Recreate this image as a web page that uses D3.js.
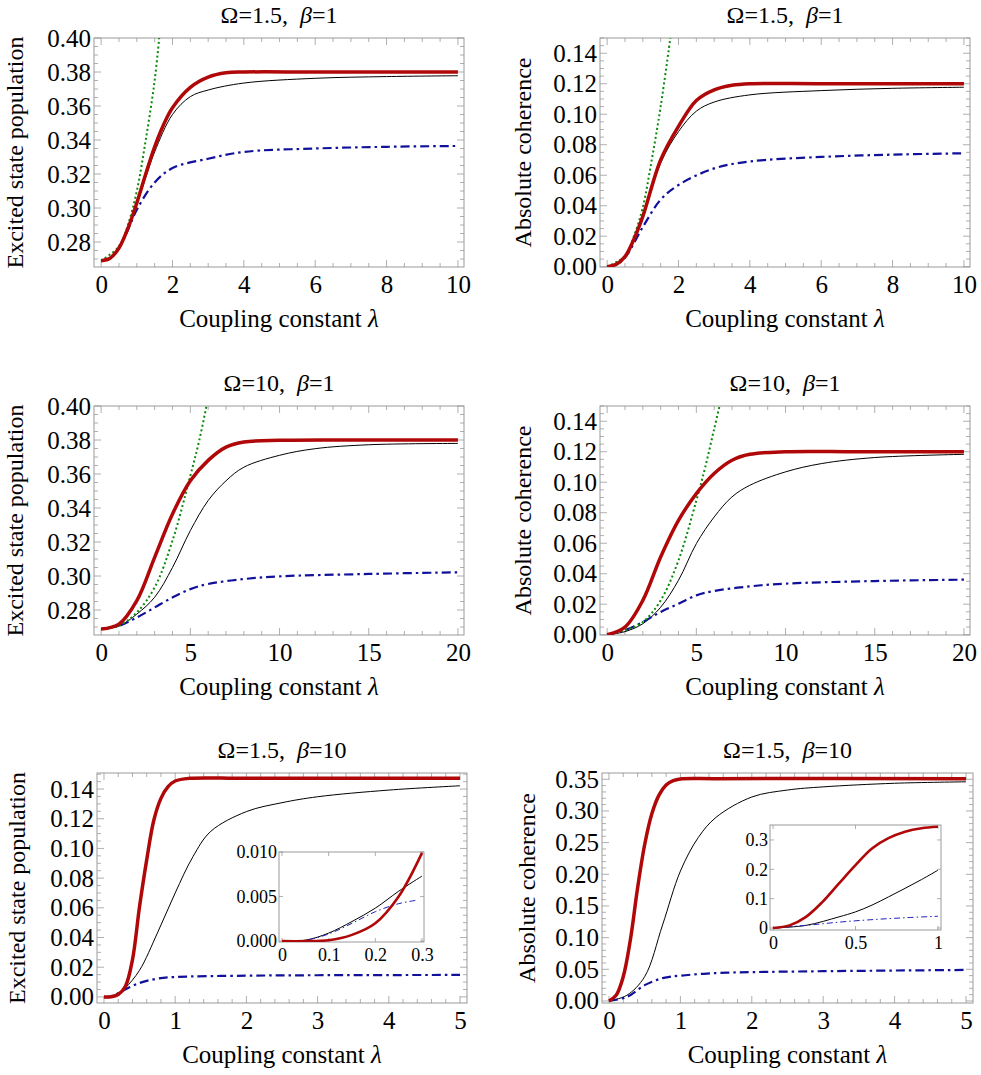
<!DOCTYPE html>
<html><head><meta charset="utf-8">
<script src="https://cdn.jsdelivr.net/npm/d3@7"></script>
<style>body{margin:0;background:#fff}svg{display:block}</style>
</head><body>
<svg id="c" width="981" height="1075"></svg>
<script>
// ---------- data ----------
const A_red   = [[0,.269],[.25,.2705],[.5,.2765],[.75,.288],[1,.303],[1.25,.32],[1.5,.336],[1.75,.349],[2,.359],[2.5,.371],[3,.377],[3.5,.3795],[4,.38],[6,.38],[10,.38]];
const A_black = [[0,.269],[.25,.2705],[.5,.2765],[.75,.288],[1,.302],[1.25,.318],[1.5,.333],[2,.355],[2.5,.3655],[3,.3694],[4,.3735],[6,.3763],[8,.3773],[10,.3778]];
const A_blue  = [[0,.269],[.25,.2705],[.5,.2765],[.75,.287],[1,.299],[1.5,.315],[2,.3235],[3,.329],[4,.333],[6,.335],[8,.336],[10,.3365]];
const A_green = [[0,.269],[.5,.2775],[.75,.29],[1,.31],[1.25,.34],[1.5,.375],[1.65,.405]];
const B_red   = [[0,0],[.25,.0015],[.5,.0066],[.75,.018],[1,.033],[1.5,.070],[2,.092],[2.5,.109],[3,.116],[3.5,.119],[4,.12],[6,.12],[10,.12]];
const B_black = [[0,0],[.25,.0015],[.5,.0066],[.75,.018],[1,.032],[1.5,.068],[2,.0886],[2.5,.102],[3,.108],[4,.1127],[6,.1155],[8,.117],[10,.1177]];
const B_blue  = [[0,0],[.25,.0015],[.5,.006],[1,.026],[1.5,.044],[2,.0536],[3,.0645],[4,.069],[6,.072],[8,.0735],[10,.0744]];
const B_green = [[0,0],[.5,.007],[.75,.02],[1,.039],[1.25,.07],[1.5,.105],[1.8,.155]];
const C_red   = [[0,.2688],[1,.2717],[2,.2855],[3,.311],[4,.3365],[5,.356],[6,.368],[7,.3758],[8,.3788],[10,.3798],[14,.38],[20,.38]];
const C_black = [[0,.2688],[1,.2705],[2,.2776],[3,.2875],[4,.305],[5,.3267],[6,.3444],[7,.356],[8,.364],[10,.371],[12,.3749],[15,.3772],[20,.378]];
const C_blue  = [[0,.2688],[1,.2707],[2,.2756],[3,.2815],[4,.2874],[5,.2923],[6,.2953],[8,.2982],[10,.2998],[15,.3012],[20,.3022]];
const C_green = [[0,.2688],[1,.2707],[2,.2786],[3,.2933],[4,.3208],[5,.359],[5.5,.3798],[6,.405]];
const D_red   = [[0,0],[1,.005],[2,.0225],[3,.051],[4,.075],[5,.0925],[6,.1057],[7,.1144],[8,.1183],[10,.12],[14,.12],[20,.12]];
const D_black = [[0,0],[1,.002],[2,.0072],[3,.018],[4,.0357],[5,.0597],[6,.0772],[7,.0904],[8,.098],[10,.1068],[12,.1122],[15,.1162],[20,.1183]];
const D_blue  = [[0,0],[1,.003],[2,.0083],[3,.0149],[4,.0203],[5,.0258],[6,.0287],[8,.0317],[10,.0335],[15,.0352],[20,.0361]];
const D_green = [[0,0],[1,.003],[2,.0083],[3,.0225],[4,.0488],[5,.088],[5.5,.11],[6,.135],[6.4,.155]];
const E_red   = [[0,0],[.1,.0001],[.2,.0016],[.3,.007],[.4,.025],[.5,.061],[.6,.0923],[.7,.119],[.8,.1337],[.9,.1416],[1,.1454],[1.2,.1472],[2,.1472],[5,.1472]];
const E_black = [[0,0],[.1,.0002],[.2,.002],[.3,.006],[.5,.018],[.75,.043],[1,.070],[1.25,.0945],[1.5,.1115],[2,.1248],[2.5,.1308],[3,.1348],[4,.1393],[5,.1422]];
const E_blue  = [[0,0],[.1,.0002],[.25,.0038],[.5,.0094],[.75,.0123],[1,.0134],[2,.0143],[3,.0146],[5,.0148]];
const Ei_red   = [[0,0],[.05,0],[.1,.0001],[.15,.0007],[.2,.002],[.25,.005],[.3,.0099]];
const Ei_black = [[0,0],[.05,.0001],[.1,.0009],[.15,.0022],[.2,.0037],[.25,.0056],[.3,.0073]];
const Ei_blue  = [[0,0],[.05,.0001],[.1,.0008],[.15,.002],[.2,.0033],[.25,.0042],[.29,.0046]];
const F_red   = [[0,0],[.1,.009],[.2,.0385],[.3,.097],[.4,.178],[.5,.247],[.6,.2955],[.7,.325],[.8,.341],[.9,.348],[1,.3506],[1.5,.351],[5,.351]];
const F_black = [[0,0],[.25,.009],[.5,.0385],[.75,.12],[1,.205],[1.25,.258],[1.5,.29],[2,.322],[2.5,.333],[3,.338],[4,.3437],[5,.346]];
const F_blue  = [[0,0],[.25,.0064],[.5,.025],[.75,.036],[1,.040],[1.5,.044],[2,.0455],[3,.047],[5,.049]];
const Fi_red   = [[0,0],[.1,.009],[.2,.038],[.3,.089],[.4,.152],[.5,.214],[.6,.271],[.7,.306],[.8,.328],[.9,.34],[1,.345]];
const Fi_black = [[0,0],[.2,.009],[.4,.038],[.5,.055],[.6,.078],[.7,.106],[.8,.135],[.9,.165],[1,.197]];
const Fi_blue  = [[0,0],[.2,.009],[.4,.02],[.6,.0285],[.8,.035],[1,.04]];

const titles = [["1.5","1"],["1.5","1"],["10","1"],["10","1"],["1.5","10"],["1.5","10"]];
const yLabels = ["Excited state population","Absolute coherence"];
const xLabel = "Coupling constant ";

const FONT = "'Liberation Serif','Times New Roman',serif";
const svg = d3.select("#c").style("font-family",FONT);
const panels = [
 {f:[94,464,38,267], xd:[-0.2,10.17], yd:[0.2653,0.40], xt:d3.range(0,11,2), xm:0.5, yt:d3.range(.28,.401,.02), ym:.005, yf:".2f", ylx:15,
  s:[A_black,A_blue,A_green,A_red]},
 {f:[600,970,38,267], xd:[-0.2,10.17], yd:[-0.0002,0.15], xt:d3.range(0,11,2), xm:0.5, yt:d3.range(0,.141,.02), ym:.005, yf:".2f", ylx:523,
  s:[B_black,B_blue,B_green,B_red]},
 {f:[94,464,406,635], xd:[-0.4,20.34], yd:[0.2653,0.40], xt:d3.range(0,21,5), xm:1, yt:d3.range(.28,.401,.02), ym:.005, yf:".2f", ylx:15,
  s:[C_black,C_blue,C_green,C_red]},
 {f:[600,970,406,635], xd:[-0.4,20.34], yd:[-0.0002,0.15], xt:d3.range(0,21,5), xm:1, yt:d3.range(0,.141,.02), ym:.005, yf:".2f", ylx:523,
  s:[D_black,D_blue,D_green,D_red]},
 {f:[97,467,773,1003], xd:[-0.098,5.098], yd:[-0.0041,0.1508], xt:d3.range(0,6,1), xm:0.2, yt:d3.range(0,.141,.02), ym:.005, yf:".2f", ylx:17,
  s:[E_black,E_blue,null,E_red],
  inset:{f:[279,424,852,942], xd:[-0.0064,0.3043], yd:[-0.0001,0.010], xt:[0,.1,.2,.3], xf:d=>d===0?"0":d3.format(".1f")(d), yt:[0,.005,.01], yf:d=>d3.format(".3f")(d), s:[Ei_black,Ei_blue,Ei_red]}},
 {f:[602,973,773,1003], xd:[-0.098,5.098], yd:[-0.0032,0.3599], xt:d3.range(0,6,1), xm:0.2, yt:d3.range(0,.351,.05), ym:.01, yf:".2f", ylx:527,
  s:[F_black,F_blue,null,F_red],
  inset:{f:[770,941,825,930], xd:[-0.0183,1.0183], yd:[-0.0068,0.351], xt:[0,.5,1], xf:d=>d===0?"0":(d===1?"1":"0.5"), yt:[0,.1,.2,.3], yf:d=>d===0?"0":d3.format(".1f")(d), s:[Fi_black,Fi_blue,Fi_red]}}
];

const styles = [
 {stroke:"#000", w:1, dash:null},
 {stroke:"#10109a", w:2.2, dash:"9,4,2.5,4"},
 {stroke:"#0a8a0a", w:2, dash:"2,2.6"},
 {stroke:"#b00808", w:3.5, dash:null}
];
const gray = "#9a9a9a";
let clipId = 0;
const curve = d3.curveCatmullRom.alpha(0.5);

function makeClip(g, P){
  const [x0,x1,y0,y1] = P.f;
  const cid = "cl"+(clipId++);
  g.append("clipPath").attr("id",cid).append("rect").attr("x",x0).attr("y",y0).attr("width",x1-x0).attr("height",y1-y0);
  return cid;
}
function ticks(g, P, x, y, minorX, minorY, maj, mino){
  const [x0,x1,y0,y1] = P.f;
  const tg = g.append("g").attr("stroke",gray).attr("stroke-width",0.8);
  const xs = minorX ? d3.range(Math.ceil(P.xd[0]/minorX)*minorX, P.xd[1]+1e-9, minorX) : [];
  const ys = minorY ? d3.range(Math.ceil(P.yd[0]/minorY)*minorY, P.yd[1]+1e-9, minorY) : [];
  const isMaj = (v, arr) => arr.some(t => Math.abs(t-v) < 1e-7);
  xs.forEach(v=>{ if(isMaj(v,P.xt)) return; const px=x(v);
    tg.append("line").attr("x1",px).attr("x2",px).attr("y1",y1).attr("y2",y1-mino);
    tg.append("line").attr("x1",px).attr("x2",px).attr("y1",y0).attr("y2",y0+mino);});
  ys.forEach(v=>{ if(isMaj(v,P.yt)) return; const py=y(v);
    tg.append("line").attr("x1",x0).attr("x2",x0+mino).attr("y1",py).attr("y2",py);
    tg.append("line").attr("x1",x1).attr("x2",x1-mino).attr("y1",py).attr("y2",py);});
  P.xt.forEach(v=>{ const px=x(v);
    tg.append("line").attr("x1",px).attr("x2",px).attr("y1",y1).attr("y2",y1-maj);
    tg.append("line").attr("x1",px).attr("x2",px).attr("y1",y0).attr("y2",y0+maj);});
  P.yt.forEach(v=>{ const py=y(v);
    tg.append("line").attr("x1",x0).attr("x2",x0+maj).attr("y1",py).attr("y2",py);
    tg.append("line").attr("x1",x1).attr("x2",x1-maj).attr("y1",py).attr("y2",py);});
  g.append("rect").attr("x",x0).attr("y",y0).attr("width",x1-x0).attr("height",y1-y0)
   .attr("fill","none").attr("stroke",gray).attr("stroke-width",1);
}
function styleAxis(a, size){
  a.select(".domain").remove();
  a.attr("font-family",FONT).attr("font-size",size);
  a.selectAll("text").attr("fill","#000").style("font-family",FONT).style("font-size",size+"px");
}

panels.forEach((P,i)=>{
  const g = svg.append("g");
  const [x0,x1,y0,y1] = P.f;
  const x = d3.scaleLinear().domain(P.xd).range([x0,x1]);
  const y = d3.scaleLinear().domain(P.yd).range([y1,y0]);
  const cid = makeClip(g,P);
  ticks(g,P,x,y,P.xm,P.ym,7,4);
  const ax = g.append("g").attr("transform",`translate(0,${y1})`)
    .call(d3.axisBottom(x).tickValues(P.xt).tickSize(0).tickPadding(8).tickFormat(d3.format("d")));
  styleAxis(ax,25);
  const ay = g.append("g").attr("transform",`translate(${x0},0)`)
    .call(d3.axisLeft(y).tickValues(P.yt).tickSize(0).tickPadding(3).tickFormat(d3.format(P.yf)));
  styleAxis(ay,25);
  const line = d3.line().x(d=>x(d[0])).y(d=>y(d[1])).curve(curve);
  const cg = g.append("g").attr("clip-path",`url(#${cid})`);
  P.s.forEach((data,k)=>{ if(!data) return; const st=styles[k];
    cg.append("path").attr("d",line(data)).attr("fill","none").attr("stroke",st.stroke)
      .attr("stroke-width",st.w).attr("stroke-dasharray",st.dash);});
  const cx = (x0+x1)/2;
  const t = g.append("text").attr("x",cx).attr("y",y0-15).attr("text-anchor","middle").style("font-size","24px");
  t.append("tspan").text("Ω="+titles[i][0]+",\u00a0\u00a0");
  t.append("tspan").attr("font-style","italic").text("β");
  t.append("tspan").text("="+titles[i][1]);
  const xl = g.append("text").attr("x",cx).attr("y",y1+60).attr("text-anchor","middle").style("font-size","25px");
  xl.append("tspan").text(xLabel);
  xl.append("tspan").attr("font-style","italic").text("λ");
  g.append("text").attr("transform",`translate(${P.ylx+8},${(y0+y1)/2}) rotate(-90)`)
   .attr("text-anchor","middle").style("font-size","24px").text(yLabels[i%2]);
  if(P.inset){
    const I = P.inset; const [a0,a1,b0,b1]=I.f;
    const ix = d3.scaleLinear().domain(I.xd).range([a0,a1]);
    const iy = d3.scaleLinear().domain(I.yd).range([b1,b0]);
    g.append("rect").attr("x",a0).attr("y",b0).attr("width",a1-a0).attr("height",b1-b0).attr("fill","#fff");
    const icid = makeClip(g,I);
    ticks(g,I,ix,iy,null,null,4,2);
    const iax = g.append("g").attr("transform",`translate(0,${b1})`)
      .call(d3.axisBottom(ix).tickValues(I.xt).tickSize(0).tickPadding(6).tickFormat(I.xf));
    styleAxis(iax,18);
    const iay = g.append("g").attr("transform",`translate(${a0},0)`)
      .call(d3.axisLeft(iy).tickValues(I.yt).tickSize(0).tickPadding(2).tickFormat(I.yf));
    styleAxis(iay,18);
    const il = d3.line().x(d=>ix(d[0])).y(d=>iy(d[1])).curve(curve);
    const icg = g.append("g").attr("clip-path",`url(#${icid})`);
    const ist = [{stroke:"#000",w:1,dash:null},{stroke:"#2020c0",w:1,dash:"6,3,1.5,3"},{stroke:"#b00808",w:2.6,dash:null}];
    I.s.forEach((data,k)=>{ const st=ist[k];
      icg.append("path").attr("d",il(data)).attr("fill","none").attr("stroke",st.stroke)
        .attr("stroke-width",st.w).attr("stroke-dasharray",st.dash);});
  }
});
</script>
</body></html>
